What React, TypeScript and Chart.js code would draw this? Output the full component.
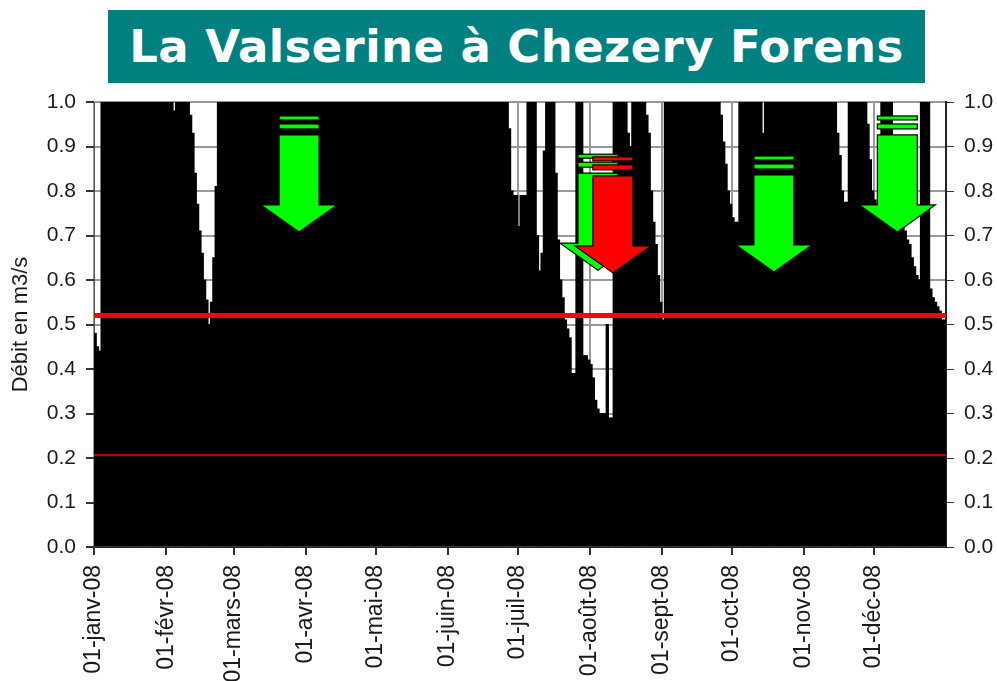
import React, { useEffect, useRef } from 'react';
import { Chart, registerables } from 'chart.js';

Chart.register(...registerables);

const TITLE = 'La Valserine à Chezery Forens';
const Y_TITLE = 'Débit en m3/s';

const MONTH_LABELS = [
  '01-janv-08', '01-févr-08', '01-mars-08', '01-avr-08', '01-mai-08', '01-juin-08',
  '01-juil-08', '01-août-08', '01-sept-08', '01-oct-08', '01-nov-08', '01-déc-08',
];

// Daily discharge 2008 (m3/s); 1 = at/above the top of the axis
const janv = [0.48, 0.45, 0.44, 1, 1, 1, 1, 1, 1, 1, 1, 1, 1, 1, 1, 1, 1, 1, 1, 1, 1, 1, 1, 1, 1, 1, 1, 1, 1, 1, 1];
const fevr = [1, 1, 1, 0.98, 1, 1, 1, 1, 1, 1, 0.97, 0.93, 0.84, 0.77, 0.71, 0.66, 0.6, 0.555, 0.5, 0.55, 0.65, 0.81, 1, 1, 1, 1, 1, 1, 1];
const mars = [1, 1, 1, 1, 1, 1, 1, 1, 1, 1, 1, 1, 1, 1, 1, 1, 1, 1, 1, 1, 1, 1, 1, 1, 1, 1, 1, 1, 1, 1, 1];
const avr = [1, 1, 1, 1, 1, 1, 1, 1, 1, 1, 1, 1, 1, 1, 1, 1, 1, 1, 1, 1, 1, 1, 1, 1, 1, 1, 1, 1, 1, 1];
const mai = [1, 1, 1, 1, 1, 1, 1, 1, 1, 1, 1, 1, 1, 1, 1, 1, 1, 1, 1, 1, 1, 1, 1, 1, 1, 1, 1, 1, 1, 1, 1];
const juin = [1, 1, 1, 1, 1, 1, 1, 1, 1, 1, 1, 1, 1, 1, 1, 1, 1, 1, 1, 1, 1, 1, 1, 1, 1, 1, 0.94, 0.8, 0.79, 0.79];
const juil = [0.72, 0.79, 0.79, 0.79, 1, 1, 1, 1, 0.7, 0.62, 0.66, 0.89, 1, 1, 1, 1, 0.84, 0.69, 0.6, 0.56, 0.51, 0.49, 0.47, 0.39, 0.39, 1, 1, 1, 0.43, 0.43, 0.42];
const aout = [0.41, 0.38, 0.33, 0.31, 0.3, 0.3, 0.3, 0.5, 0.29, 0.29, 1, 1, 1, 1, 1, 1, 0.93, 0.9, 1, 1, 1, 1, 1, 1, 0.97, 0.93, 0.8, 0.73, 0.68, 0.61, 0.55];
const sept = [0.51, 1, 1, 1, 1, 1, 1, 1, 1, 1, 1, 1, 1, 1, 1, 1, 1, 1, 1, 1, 1, 1, 1, 1, 1, 0.97, 0.91, 0.86, 0.8, 0.77];
const oct = [0.74, 0.73, 0.73, 1, 1, 1, 1, 1, 1, 1, 1, 1, 1, 0.93, 1, 1, 1, 1, 1, 1, 1, 1, 1, 1, 1, 1, 1, 1, 1, 1, 1];
const nov = [1, 1, 1, 1, 1, 1, 1, 1, 1, 1, 1, 1, 1, 1, 0.93, 0.88, 0.8, 0.775, 0.775, 1, 1, 1, 1, 1, 1, 1, 1, 0.95, 0.87, 0.8];
const dec = [0.78, 0.77, 0.78, 1, 1, 1, 1, 1, 0.8, 0.78, 0.76, 0.74, 0.72, 0.71, 0.69, 0.68, 0.65, 0.63, 0.61, 0.6, 1, 1, 1, 1, 0.58, 0.56, 0.55, 0.54, 0.53, 0.51, 0.51];

const MONTHS = [janv, fevr, mars, avr, mai, juin, juil, aout, sept, oct, nov, dec];

// threshold lines
const SEUIL_HAUT = 0.52;
const SEUIL_BAS = 0.207;

// annotation arrows: day-of-year centre and tip value
const ARROW_DAYS = [88.1, 216.5, 222.9, 292.1, 345.1];
const ARROW_TIPS = [0.708, 0.622, 0.616, 0.618, 0.708];
const ARROW_COLORS = ['#00ff00', '#00ff00', '#ff0000', '#00ff00', '#00ff00'];

const arrowPlugin = {
  id: 'arrows',
  afterDatasetsDraw(chart: any) {
    const { ctx, scales } = chart;
    const x = scales.x;
    const y = scales.y;
    ctx.save();
    const hw = 38, bw = 20, hh = 27, bt = 97;
    ARROW_DAYS.forEach((d, i) => {
      const cx = x.getPixelForValue(d);
      const ty = y.getPixelForValue(ARROW_TIPS[i]);
      ctx.fillStyle = ARROW_COLORS[i];
      ctx.strokeStyle = '#000';
      ctx.lineWidth = 1.2;
      ctx.beginPath();
      ctx.moveTo(cx, ty);
      ctx.lineTo(cx - hw, ty - hh);
      ctx.lineTo(cx - bw, ty - hh);
      ctx.lineTo(cx - bw, ty - bt);
      ctx.lineTo(cx + bw, ty - bt);
      ctx.lineTo(cx + bw, ty - hh);
      ctx.lineTo(cx + hw, ty - hh);
      ctx.closePath();
      ctx.fill();
      ctx.stroke();
      const stripes = [[-116, -112], [-108, -103]];
      stripes.forEach(([t, b]) => {
        ctx.fillRect(cx - bw, ty + t, 2 * bw, b - t);
        ctx.strokeRect(cx - bw, ty + t, 2 * bw, b - t);
      });
    });
    ctx.restore();
  },
};

export default function App() {
  const ref = useRef<HTMLCanvasElement>(null);

  useEffect(() => {
    const daily: number[] = ([] as number[]).concat(...MONTHS);
    const monthStarts: number[] = [];
    let acc = 0;
    MONTHS.forEach((m) => { monthStarts.push(acc); acc += m.length; });
    const nDays = acc;

    const font = '"Liberation Sans", Arial, sans-serif';
    const chart = new Chart(ref.current!, {
      type: 'bar',
      data: {
        datasets: [
          {
            type: 'line',
            data: [{ x: 0, y: SEUIL_HAUT }, { x: nDays, y: SEUIL_HAUT }],
            borderColor: '#ff0000',
            borderWidth: 5,
            pointRadius: 0,
            order: 1,
          } as any,
          {
            type: 'line',
            data: [{ x: 0, y: SEUIL_BAS }, { x: nDays, y: SEUIL_BAS }],
            borderColor: '#ff0000',
            borderWidth: 1.5,
            pointRadius: 0,
            order: 1,
          } as any,
          {
            type: 'bar',
            data: daily.map((v, i) => ({ x: i + 0.5, y: v })),
            backgroundColor: '#000',
            borderWidth: 0,
            barPercentage: 1,
            categoryPercentage: 1,
            inflateAmount: 0.5,
            order: 3,
          } as any,
        ],
      },
      options: {
        animation: false,
        responsive: false,
        devicePixelRatio: 1,
        layout: { padding: { top: 102, left: 0, right: 0, bottom: 0 } },
        plugins: { legend: { display: false }, tooltip: { enabled: false }, title: { display: false } },
        scales: {
          x: {
            type: 'linear',
            min: 0,
            max: nDays,
            offset: false,
            afterFit: (s: any) => { s.height = 134; },
            afterBuildTicks: (s: any) => { s.ticks = monthStarts.map((v) => ({ value: v })); },
            grid: { offset: false, color: '#999', lineWidth: 2, tickColor: '#333', tickLength: 8, drawTicks: true },
            border: { display: true, color: '#222', width: 1 },
            ticks: {
              autoSkip: false,
              minRotation: 90,
              maxRotation: 90,
              padding: 10,
              color: '#1a1a1a',
              font: { family: font, size: 23 },
              callback: (_v: any, i: number) => MONTH_LABELS[i],
            },
          },
          y: {
            type: 'linear',
            position: 'left',
            min: 0,
            max: 1,
            afterFit: (s: any) => { s.width = 94; },
            grid: { color: '#999', lineWidth: 2, tickColor: '#333', tickLength: 8 },
            border: { display: true, color: '#555', width: 1 },
            ticks: {
              stepSize: 0.1,
              padding: 10,
              color: '#1a1a1a',
              font: { family: font, size: 21 },
              callback: (v: any) => Number(v).toFixed(1),
            },
            title: {
              display: true,
              text: Y_TITLE,
              color: '#1a1a1a',
              font: { family: font, size: 22 },
              padding: { top: 8, bottom: 0 },
            },
          },
          y2: {
            type: 'linear',
            position: 'right',
            min: 0,
            max: 1,
            afterFit: (s: any) => { s.width = 51; },
            grid: { drawOnChartArea: false, tickColor: '#333', tickLength: 8 },
            border: { display: true, color: '#222', width: 2 },
            ticks: {
              stepSize: 0.1,
              padding: 10,
              color: '#1a1a1a',
              font: { family: font, size: 21 },
              callback: (v: any) => Number(v).toFixed(1),
            },
          },
        },
      },
      plugins: [arrowPlugin],
    } as any);
    return () => chart.destroy();
  }, []);

  return (
    <div style={{ position: 'fixed', left: 0, top: 0, width: 997, height: 681, background: '#fff', overflow: 'hidden' }}>
      <canvas ref={ref} width={997} height={681} style={{ position: 'absolute', left: 0, top: 0 }} />
      <div
        style={{
          position: 'absolute', left: 108, top: 10, width: 817, height: 73,
          background: '#008080', color: '#fff',
          display: 'flex', alignItems: 'center', justifyContent: 'center',
          font: '700 45px "DejaVu Sans", Verdana, sans-serif', letterSpacing: '0.4px',
          whiteSpace: 'nowrap',
        }}
      >
        {TITLE}
      </div>
    </div>
  );
}
